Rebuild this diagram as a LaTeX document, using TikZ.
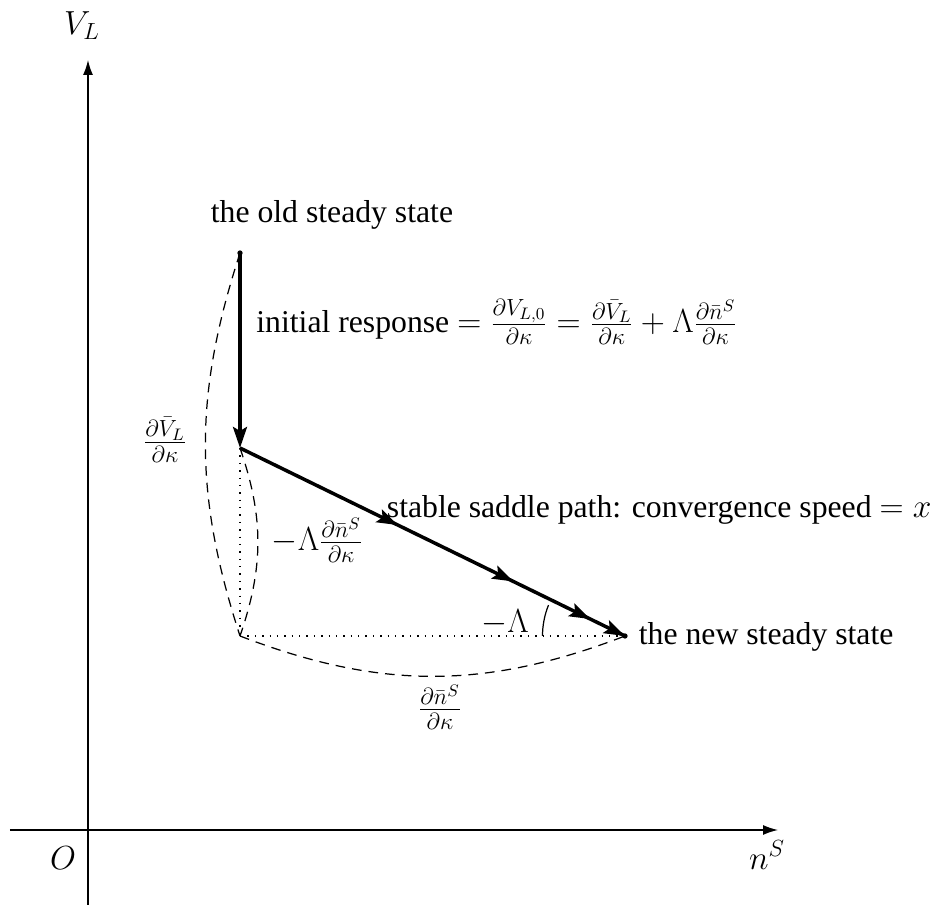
\documentclass[tikz,border=0pt]{standalone}
\usepackage{fix-cm}
\usepackage{amsmath,amssymb}
\usepackage{fontspec}
\setmainfont[Scale=0.95]{Liberation Serif}
\usepackage{tikz}
\usetikzlibrary{arrows.meta, positioning, decorations.markings}

\begin{document}
\begin{tikzpicture}[
  every node/.style={font=\fontsize{19}{23}\selectfont},
  ax/.style={-{Latex[length=3mm,width=2mm]}, line width=0.8pt},
  jump/.style={-{Stealth[length=4.2mm,width=2.8mm,inset=0.8mm]}, line width=2pt},
  saddle/.style={line width=2pt,
    postaction={decorate, decoration={markings,
      mark=at position 0.41 with {\arrow{Stealth[length=4.2mm,width=2.8mm,inset=0.8mm]}},
      mark=at position 0.71 with {\arrow{Stealth[length=4.2mm,width=2.8mm,inset=0.8mm]}},
      mark=at position 0.91 with {\arrow{Stealth[length=4.2mm,width=2.8mm,inset=0.8mm]}},
      mark=at position 1 with {\arrow{Stealth[length=4.2mm,width=2.8mm,inset=0.8mm]}}}}},
  dsh/.style={line width=0.7pt, dash pattern=on 5.5pt off 4pt},
  dts/.style={line width=0.8pt, dash pattern=on 0.8pt off 3.4pt},
  pt/.style={circle, fill, inner sep=0pt, minimum size=3pt}
]
\useasboundingbox (-1.76,-1.5) rectangle (16.94,16.6);
%% Axes
\coordinate (O) at (0,0);
\coordinate (xs) at (-1.56,0);
\coordinate (xe) at (13.8,0);
\coordinate (ys) at (0,-1.5);
\coordinate (ye) at (0,15.4);
\draw[ax] (xs)--(xe);
\draw[ax] (ys)--(ye);
\node (lO)  at (-0.5,-0.56) {$O$};
\node (lnS) at (13.58,-0.5) {$n^S$};
\node (lVL) at (-0.12,16.08) {$V_L$};
%% States
\node[pt] (old) at (3.04,11.54) {};
\coordinate (kink) at (3.04,7.64);
\node[pt] (new) at (10.74,3.88) {};
\coordinate (foot) at (3.04,3.88);
%% Dotted legs
\draw[dts] (kink)--(foot);
\draw[dts] (foot)--(new);
%% Dashed braces
\draw[dsh] (old.center) to[bend right=18] (foot);
\draw[dsh] (kink) to[bend left=19] (foot);
\draw[dsh] (foot) to[bend right=21] (new.center);
%% Paths
\draw[jump] (old.center)--(kink);
\draw[saddle] (kink)--(new.center);
%% Angle
\draw[line width=0.7pt] (new.center) ++(180:1.65) arc[start angle=180, end angle=158, radius=1.65];
%% Labels
\node (lold) at (4.88,12.3) {the old steady state};
\node[anchor=west] (linit) at (3.25,10.16)
  {initial response $=\frac{\partial V_{L,0}}{\partial\kappa}=\frac{\partial\bar{V}_L}{\partial\kappa}+\Lambda\frac{\partial\bar{n}^S}{\partial\kappa}$};
\node (lVbar) at (1.54,7.8) {$\frac{\partial\bar{V}_L}{\partial\kappa}$};
\node[anchor=west] (lsad) at (5.86,6.4) {stable saddle path: convergence speed $=x$};
\node[anchor=west] (lLn) at (3.56,5.8) {$-\Lambda\frac{\partial\bar{n}^S}{\partial\kappa}$};
\node (lLam) at (8.34,4.16) {$-\Lambda$};
\node[anchor=west] (lnew) at (10.9,3.86) {the new steady state};
\node (lnbar) at (7.04,2.46) {$\frac{\partial\bar{n}^S}{\partial\kappa}$};
\end{tikzpicture}
\end{document}
